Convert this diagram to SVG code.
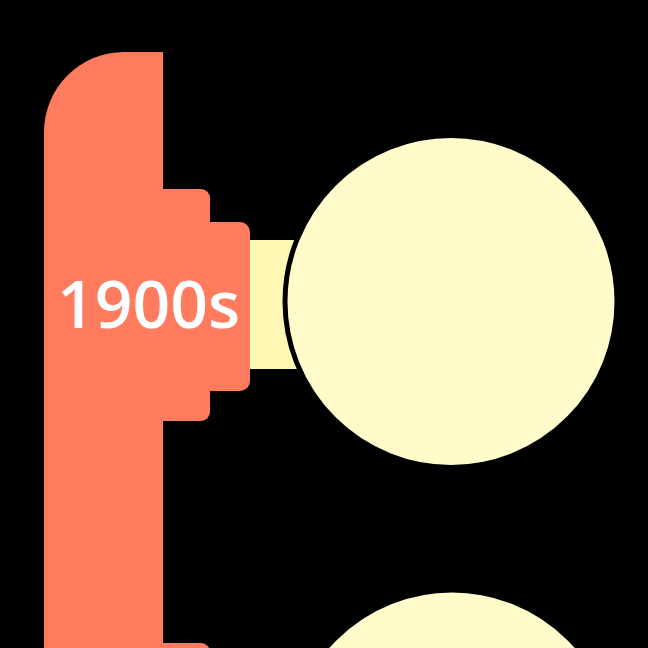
<svg xmlns="http://www.w3.org/2000/svg" width="648" height="648" viewBox="0 0 648 648">
<style>
.band{fill:#FF7B5E}
.link{fill:#FFF8B4}
.bubble{fill:#FFFBCB;stroke:#000;stroke-width:5}
.lbl{font-family:"Open Sans","Noto Sans",sans-serif;font-size:66px;font-weight:600;fill:#fff;text-anchor:middle}
</style>
<rect width="648" height="648" fill="#000"/>
<g id="connectors">
<rect class="link" x="245" y="240" width="55" height="129"/>
</g>
<g id="era-1900s">
<path class="band" d="M44 132 A80 80 0 0 1 124 52 H163 V648 H44 Z"/>
<rect class="band" x="150" y="189" width="60" height="232" rx="9"/>
<rect class="band" x="190" y="222" width="60" height="169" rx="10"/>
<rect class="band" x="150" y="643" width="60" height="20" rx="9"/>
<text class="lbl" x="148.5" y="328">1900s</text>
</g>
<g id="bubble-1">
<circle class="bubble" cx="451" cy="301.5" r="166"/>
</g>
<g id="bubble-2">
<circle class="bubble" cx="452" cy="756" r="166"/>
</g>
</svg>
